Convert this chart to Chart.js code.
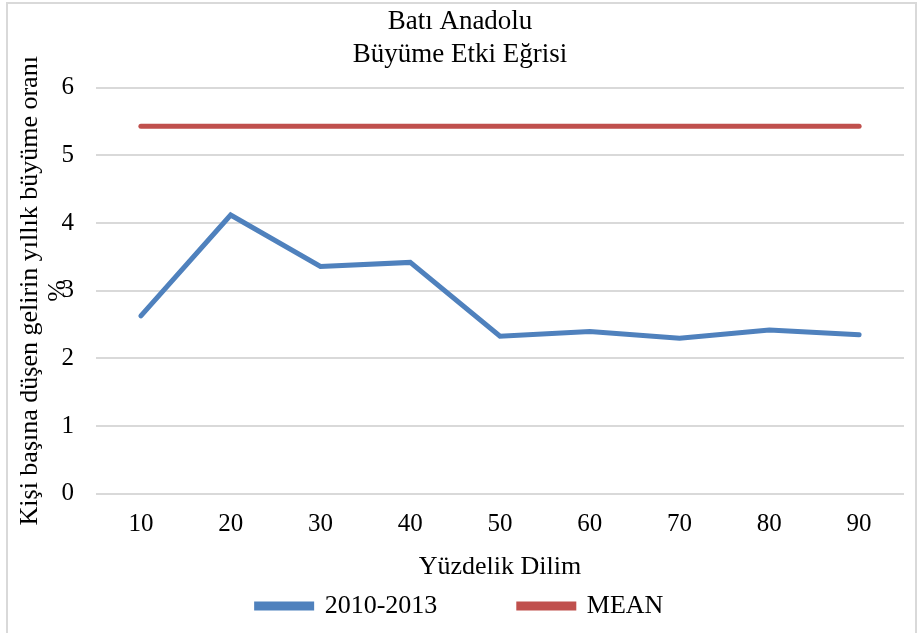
<!DOCTYPE html>
<html>
<head>
<meta charset="utf-8">
<script src="https://cdn.jsdelivr.net/npm/chart.js@4"></script>
<style>
    html, body { margin: 0; padding: 0; background: #fff; }
    #wrap { position: relative; width: 920px; height: 633px; }
    #frame { position: absolute; left: 6px; top: 2px; width: 911px; height: 640px; border: 2px solid #d9d9d9; box-sizing: border-box; pointer-events: none; }
</style>
</head>
<body>
<div id="wrap">
    <canvas id="chart" width="920" height="633"></canvas>
    <div id="frame"></div>
</div>
<script>
const dilimLabels = ['10', '20', '30', '40', '50', '60', '70', '80', '90'];
const growth2010_2013 = [2.63, 4.12, 3.36, 3.42, 2.33, 2.40, 2.30, 2.42, 2.35];
const meanValues = [5.43, 5.43, 5.43, 5.43, 5.43, 5.43, 5.43, 5.43, 5.43];
const yTicks = [0, 1, 2, 3, 4, 5, 6];

const serif = 'Liberation Serif, Times New Roman, serif';
Chart.defaults.font.family = serif;
Chart.defaults.color = '#000';

// wider gap after the first legend entry, without growing the legend height
const defaultLabels = Chart.defaults.plugins.legend.labels.generateLabels;
function spacedLabels(chart) {
    const items = defaultLabels(chart);
    items.forEach((item, i) => {
        if (i < items.length - 1) item.text = item.text + '\u00A0'.repeat(11);
    });
    return items;
}

const ctx = document.getElementById('chart').getContext('2d');
const chart = new Chart(ctx, {
    type: 'line',
    data: {
        labels: dilimLabels,
        datasets: [{
            label: '2010-2013',
            data: growth2010_2013,
            borderColor: '#4F81BD',
            backgroundColor: '#4F81BD',
            borderWidth: 5,
            borderCapStyle: 'round',
            pointRadius: 0,
            tension: 0,
        }, {
            label: 'MEAN',
            data: meanValues,
            borderColor: '#C0504D',
            backgroundColor: '#C0504D',
            borderWidth: 5,
            borderCapStyle: 'round',
            pointRadius: 0,
            tension: 0,
        }]
    },
    options: {
        responsive: false,
        animation: false,
        layout: { padding: { left: 16, right: 16, top: 4, bottom: 4 } },
        plugins: {
            title: {
                display: true,
                text: ['Batı Anadolu', 'Büyüme Etki Eğrisi'],
                font: { size: 27, weight: 'normal', lineHeight: 1.2 },
                color: '#000',
                padding: { top: 2, bottom: 17 },
            },
            legend: {
                position: 'bottom',
                labels: {
                    boxWidth: 55,
                    boxHeight: 4,
                    padding: 10,
                    font: { size: 26 },
                    color: '#000',
                    generateLabels: spacedLabels,
                },
            },
            tooltip: { enabled: false },
        },
        scales: {
            x: {
                offset: true,
                grid: { display: false },
                border: { display: false },
                ticks: { font: { size: 25 }, color: '#000', padding: 8, maxRotation: 0 },
                title: { display: true, text: 'Yüzdelik Dilim', font: { size: 26 }, color: '#000', padding: { top: 4, bottom: 0 } },
            },
            y: {
                min: 0,
                max: 6,
                afterBuildTicks: (scale) => {
                    scale.ticks = yTicks.map(v => ({ value: v }));
                },
                afterFit: (scale) => {
                    scale.width = 80;
                },
                grid: { color: '#d9d9d9', lineWidth: 2, drawTicks: false },
                border: { display: false },
                ticks: { font: { size: 25 }, color: '#000', padding: 22 },
                title: {
                    display: true,
                    text: ['Kişi başına düşen gelirin yıllık büyüme oranı', '%'],
                    font: { size: 26, lineHeight: 1.05 },
                    color: '#000',
                    padding: { top: 1, bottom: 0 },
                },
            },
        },
    },
});
</script>
</body>
</html>
